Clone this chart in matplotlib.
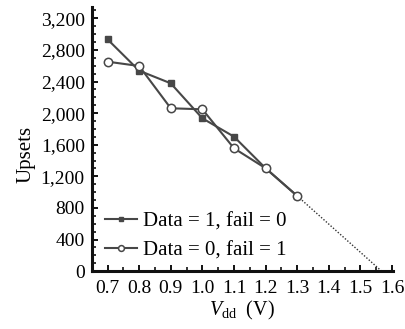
import matplotlib
matplotlib.use("Agg")
import matplotlib.pyplot as plt
from matplotlib.ticker import MultipleLocator, FuncFormatter

plt.rcParams['font.family'] = ['Liberation Serif', 'DejaVu Serif']
plt.rcParams['mathtext.fontset'] = 'custom'
plt.rcParams['mathtext.rm'] = 'Liberation Serif'
plt.rcParams['mathtext.it'] = 'Liberation Serif:italic'

vdd = [0.7, 0.8, 0.9, 1.0, 1.1, 1.2, 1.3]
data1_fail0 = [2935, 2538, 2378, 1935, 1703, 1303, 952]
data0_fail1 = [2652, 2597, 2062, 2049, 1556, 1303, 952]
extrap_x = [1.3, 1.567]
extrap_y = [952, 0]

xticks = [0.7, 0.8, 0.9, 1.0, 1.1, 1.2, 1.3, 1.4, 1.5, 1.6]
yticks = [0, 400, 800, 1200, 1600, 2000, 2400, 2800, 3200]

W, H = 406, 329
fig = plt.figure(figsize=(W / 100, H / 100), dpi=100)
ax = fig.add_axes([91.7 / W, 1 - 271.2 / H, (392.7 - 91.7) / W, (271.2 - 7.3) / H])

col = '#474747'
ax.plot(extrap_x, extrap_y, linestyle=(0, (1, 1.3)), color='#333333', lw=1.0)
ax.plot(vdd, data1_fail0, color=col, lw=1.5, marker='s', ms=4.9,
        mfc=col, mec=col, label='Data = 1, fail = 0', zorder=3)
ax.plot(vdd, data0_fail1, color=col, lw=1.5, marker='o', ms=6.0,
        mfc='white', mec=col, mew=1.1, label='Data = 0, fail = 1', zorder=4)

ax.set_xlim(0.65, 1.602)
ax.set_ylim(0, 3340)
ax.set_xticks(xticks)
ax.set_yticks(yticks)
ax.xaxis.set_minor_locator(MultipleLocator(0.05))
ax.yaxis.set_minor_locator(MultipleLocator(100))
ax.xaxis.set_major_formatter(FuncFormatter(lambda v, p: f"{v:.1f}"))
ax.yaxis.set_major_formatter(FuncFormatter(lambda v, p: f"{int(v):,}"))

for s in ['top', 'right']:
    ax.spines[s].set_visible(False)
for s in ['left', 'bottom']:
    ax.spines[s].set_linewidth(2.2)
    ax.spines[s].set_color('#111111')

ax.tick_params(which='major', direction='in', length=4.5, width=1.4, labelsize=14,
               color='#111111')
ax.tick_params(axis='y', which='major', pad=5)
ax.tick_params(axis='x', which='major', pad=6)
ax.tick_params(which='minor', direction='in', length=3, width=1.2, color='#111111')

ax.set_ylabel('Upsets', fontsize=15)
ax.yaxis.set_label_coords(-0.188, 0.444)
ax.set_xlabel(r'$V_{\mathrm{dd}}$  (V)', fontsize=14.5, labelpad=2)

leg = ax.legend(loc='lower left', frameon=False, fontsize=15, handlelength=1.55,
                handletextpad=0.3, labelspacing=0.45, borderaxespad=0.0,
                markerscale=0.7, bbox_to_anchor=(0.015, 0.01))

fig.savefig('out.png', dpi=100)
